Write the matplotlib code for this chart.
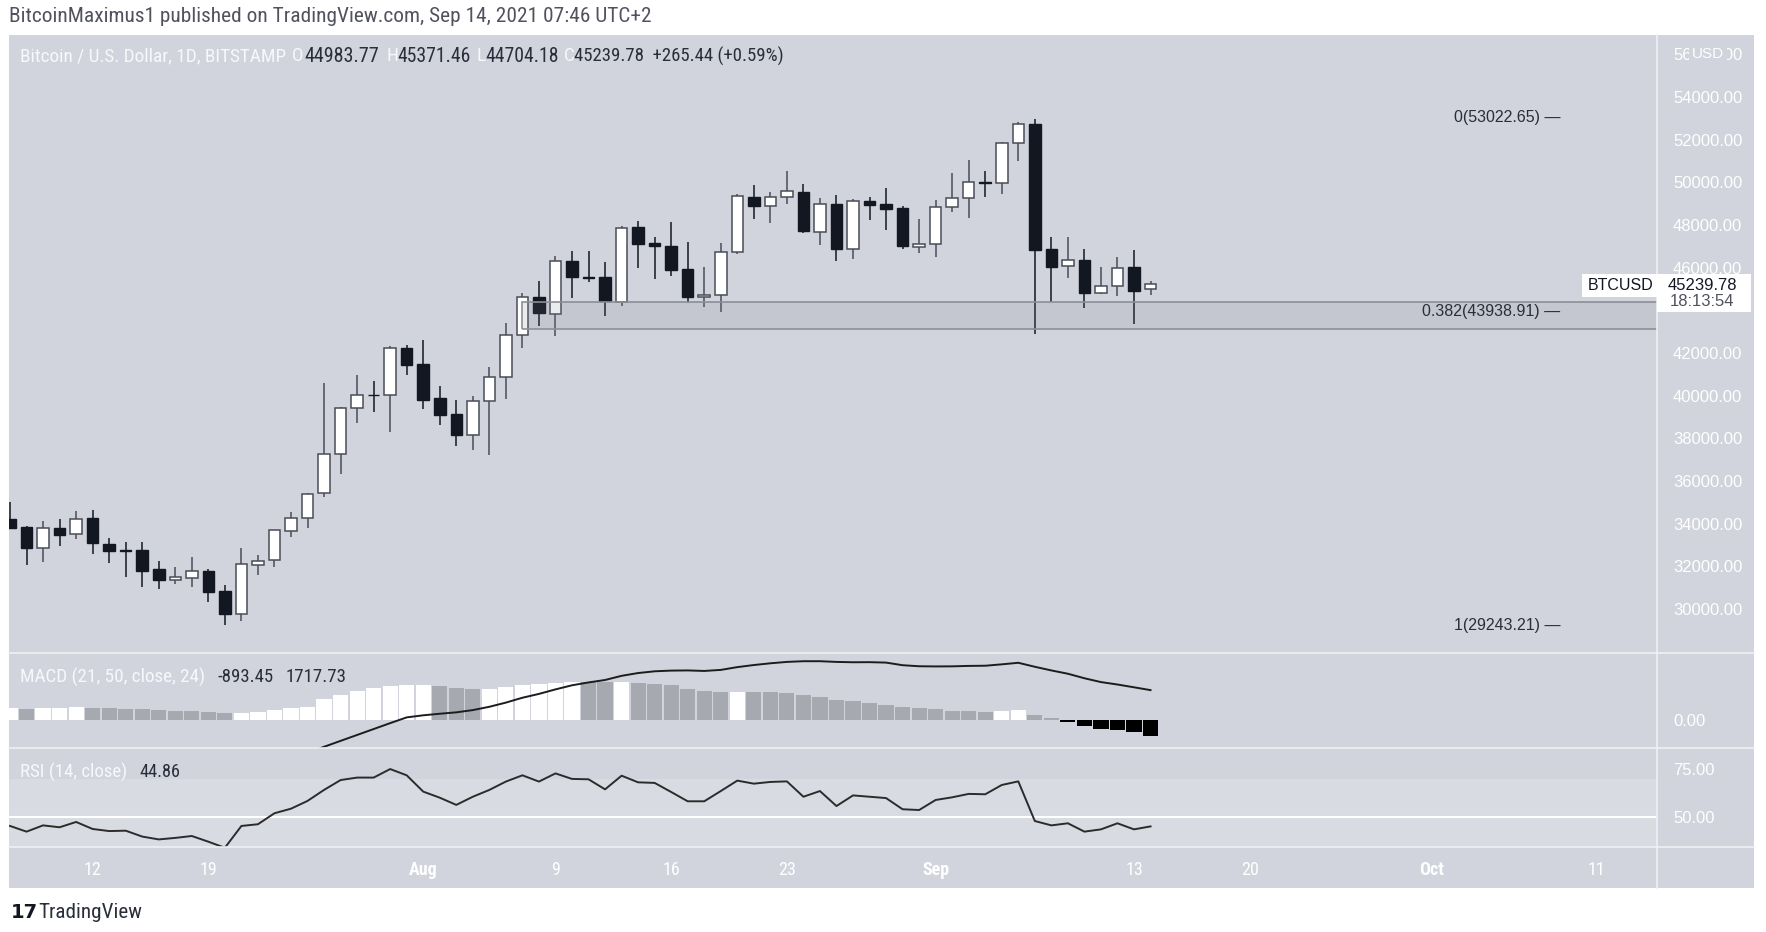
import matplotlib
matplotlib.use('Agg')
import matplotlib.pyplot as plt
import matplotlib.dates as mdates
import matplotlib.transforms as mtransforms
from matplotlib import font_manager
from matplotlib.patches import Rectangle
from matplotlib.lines import Line2D
import numpy as np
import pandas as pd

W, H = 1766, 932

# ---------------- data ----------------
dates = pd.date_range('2021-07-07', '2021-09-14', freq='D')

opens = [34220, 33860, 32875, 33780, 33516, 34266, 33047, 32781, 32766, 31875, 31359, 31469, 31781, 30844,
         29781, 32047, 32297, 33672, 34250, 35422, 37250, 39438, 40050, 40031, 42219,
         41484, 39875, 39141, 38172, 39734, 40875, 42844, 44641, 43813, 46297, 45578, 45547, 44391, 47891,
         47141, 47031, 45922, 44625, 44734, 46750, 49328, 48891, 49328, 49531, 47656, 49000, 46859, 49109,
         48969, 48797, 46969,
         47125, 48828, 49250, 50031, 49953, 51828, 52734, 46875, 46063, 46375, 44828, 45156, 46016, 44983.77]
highs = [35030, 33900, 34125, 34220, 34594, 34656, 33313, 33125, 33156, 32250, 31969, 32422, 31875, 31125,
         32844, 32547, 33700, 34531, 35453, 40578, 39484, 40953, 40688, 42344, 42375,
         42609, 40469, 39781, 40000, 41359, 43422, 44797, 45391, 46563, 46781, 46781, 46250, 47953, 48203,
         47422, 48125, 47188, 46016, 47141, 49453, 49875, 49531, 50547, 49906, 49281, 49391, 49219, 49328,
         49719, 48906, 48266,
         49172, 50422, 51047, 50547, 51906, 52844, 52953, 47422, 47422, 46891, 46016, 46516, 46813, 45371.46]
lows = [33760, 32063, 32219, 32969, 33281, 32594, 32172, 31516, 31031, 30922, 31172, 31031, 30344, 29266,
        29438, 31609, 31953, 33391, 33813, 35266, 36328, 38734, 39234, 38313, 40969,
        39359, 38625, 37625, 37469, 37219, 39844, 42219, 43266, 42797, 44594, 45344, 43734, 44219, 45969,
        45453, 45609, 44359, 44172, 43906, 46641, 48281, 48078, 48984, 47609, 47063, 46313, 46391, 48234,
        47766, 46859, 46672,
        46516, 48609, 48344, 49328, 49453, 51016, 42875, 44375, 45500, 44125, 44766, 44688, 43359, 44704.18]
closes = [33780, 32844, 33781, 33453, 34203, 33078, 32703, 32703, 31781, 31359, 31516, 31766, 30781, 29750,
          32125, 32266, 33688, 34250, 35391, 37250, 39438, 40031, 40020, 42219, 41453,
          39797, 39094, 38172, 39734, 40875, 42860, 44641, 43859, 46297, 45547, 45500, 44438, 47875, 47109,
          47016, 45891, 44641, 44734, 46750, 49375, 48891, 49328, 49594, 47719, 49000, 46859, 49109, 48938,
          48766, 47016, 47125,
          48844, 49266, 50031, 49969, 51828, 52734, 46828, 46047, 46375, 44828, 45156, 46000, 44906, 45239.78]

macd_hist = [670, 660, 680, 700, 740, 690, 670, 645, 610, 570, 530, 495, 455, 380,
             420, 475, 600, 665, 760, 1180, 1460, 1650, 1860, 1980, 2000,
             2010, 1940, 1830, 1800, 1810, 1880, 2010, 2090, 2150, 2200, 2170, 2160, 2200, 2130,
             2090, 1995, 1805, 1670, 1615, 1625, 1610, 1590, 1555, 1425, 1330, 1140, 1080, 1005,
             890, 760, 665,
             605, 535, 520, 455, 510, 570, 285, 95, -115, -325, -530, -575, -685, -893.45]

macd_line = [np.nan] * 18 + [
    -1900, -1540, -1200, -860, -520, -180, 150,
    270, 360, 440, 570, 760, 1000, 1280, 1500, 1760, 1995, 2160, 2300, 2540, 2700, 2800, 2840, 2850,
    2820, 2880, 3040, 3160, 3260, 3340, 3380, 3380, 3340, 3320, 3325, 3300, 3150, 3090,
    3080, 3085, 3110, 3120, 3200, 3290, 3060, 2850, 2660, 2400, 2180, 2040, 1880, 1717.73]

rsi = [45.1, 42.1, 45.4, 44.4, 47.2, 43.5, 42.4, 42.6, 39.5, 38.0, 38.8, 39.8, 36.8, 33.6,
       45.1, 46.0, 51.8, 54.2, 58.3, 64.1, 69.3, 70.6, 70.6, 75.1, 71.8,
       63.2, 60.0, 56.2, 60.5, 64.1, 68.5, 71.8, 68.5, 72.8, 69.9, 69.7, 64.4, 71.6, 68.1,
       67.8, 63.0, 58.1, 58.1, 63.5, 69.0, 67.4, 68.3, 68.6, 60.5, 63.5, 55.6, 61.2, 60.5,
       59.8, 53.9, 53.5,
       58.8, 60.2, 62.0, 61.8, 66.7, 68.6, 47.7, 45.4, 46.5, 42.1, 43.3, 46.5, 43.3, 44.86]

price_ticks = [30000, 32000, 34000, 36000, 38000, 40000, 42000, 46000, 48000, 50000, 52000, 54000, 56000]
fib_levels = [("0", 53022.65), ("0.382", 43938.91), ("1", 29243.21)]
zone_low, zone_high = 43130, 44390
zone_start = '2021-08-07'
tick_dates = ['2021-07-12', '2021-07-19', '2021-08-01', '2021-08-09', '2021-08-16', '2021-08-23',
              '2021-09-01', '2021-09-13', '2021-09-20', '2021-10-01', '2021-10-11']
tick_labels = ['12', '19', 'Aug', '9', '16', '23', 'Sep', '13', '20', 'Oct', '11']
month_labels = {'Aug', 'Sep', 'Oct'}

# ---------------- style ----------------
names = set(font_manager.get_font_names())
def pick(*cands):
    for n in cands:
        if n in names:
            return n
    return 'DejaVu Sans'
NARROW = pick('Liberation Sans Narrow', 'Roboto Condensed', 'Liberation Sans')
REG = pick('Liberation Sans', 'Roboto', 'DejaVu Sans')

BG = '#d1d4dc'
LIGHT = '#f7f8fb'
DARK = '#2a2e39'
DOWN = '#131722'
UPEDGE = '#4a4d57'
SEP = '#eef0f4'

fig = plt.figure(figsize=(W / 100, H / 100), dpi=100, facecolor='white')

def R(x0, y0, x1, y1):
    return [x0 / W, 1 - y1 / H, (x1 - x0) / W, (y1 - y0) / H]

def clean(a):
    for s in a.spines.values():
        s.set_visible(False)

bg = fig.add_axes(R(9, 35, 1754, 888))
bg.set_facecolor(BG)
bg.set_xticks([]); bg.set_yticks([])
clean(bg)
bg.set_zorder(-5)

ax = fig.add_axes(R(9, 35, 1657, 653))
axm = fig.add_axes(R(9, 653, 1657, 748))
axr = fig.add_axes(R(9, 748, 1657, 847))
for a in (ax, axm, axr):
    a.patch.set_alpha(0)
    clean(a)

x = mdates.date2num(dates)
x0 = x[0]
for a in (ax, axm, axr):
    a.set_xlim(x0 - 0.06, x0 + 99.64)

# ---------------- candles ----------------
o = np.array(opens, float); c = np.array(closes, float)
h = np.array(highs, float); l = np.array(lows, float)
up = c >= o
ax.vlines(x[up], l[up], h[up], color=UPEDGE, lw=1.1, zorder=2)
ax.vlines(x[~up], l[~up], h[~up], color=DOWN, lw=1.1, zorder=2)
ax.bar(x[up], (c - o)[up], bottom=o[up], width=0.7, color='white', edgecolor=UPEDGE,
       linewidth=1.1, zorder=3)
ax.bar(x[~up], (o - c)[~up], bottom=c[~up], width=0.7, color=DOWN, edgecolor=DOWN,
       linewidth=1.0, zorder=3)
ax.set_ylim(27937.5, 56906)

# zone rectangle
zx = mdates.date2num(pd.Timestamp(zone_start))
ax.add_patch(Rectangle((zx, zone_low), 200, zone_high - zone_low, facecolor='#787b86',
                       alpha=0.14, edgecolor='none', zorder=4))
ax.add_patch(Rectangle((zx, zone_low), 200, zone_high - zone_low, facecolor='none',
                       edgecolor='#8c8f98', lw=1.2, zorder=4))

# fib labels
btrans = mtransforms.blended_transform_factory(ax.transAxes, ax.transData)
fx = (1560 - 9) / 1648
for name, val in fib_levels:
    ax.text(fx, val, f"{name}({val:.2f}) \u2014", transform=btrans, ha='right', va='center',
            color=DARK, fontsize=11.5, fontfamily=REG, zorder=6)

# price axis
ax.yaxis.tick_right()
ax.set_yticks(price_ticks)
ax.set_yticklabels([f"{v:.2f}" for v in price_ticks])
ax.tick_params(axis='y', length=0, pad=11.5, labelsize=12, labelcolor='white')
ax.set_xticks([])
for lbl in ax.get_yticklabels():
    lbl.set_fontfamily(REG)

# ---------------- MACD ----------------
hist = np.array(macd_hist, float)
cols = []
for i, v in enumerate(hist):
    if v < 0:
        cols.append('#000000')
    elif i == 0 or v > hist[i - 1]:
        cols.append('#ffffff')
    else:
        cols.append('#a7a9b0')
axm.bar(x, hist, width=0.92, color=cols, linewidth=0, zorder=2)
axm.plot(x, macd_line, color='#1c1c1c', lw=1.4, zorder=3)
axm.set_ylim(-1610, 3852)
axm.yaxis.tick_right()
axm.set_yticks([0])
axm.set_yticklabels(['0.00'])
axm.tick_params(axis='y', length=0, pad=11.5, labelsize=12, labelcolor='white')
axm.set_xticks([])
for lbl in axm.get_yticklabels():
    lbl.set_fontfamily(REG)

# ---------------- RSI ----------------
axr.axhspan(30, 70, color='#d8dbe2', zorder=0, lw=0)
axr.axhline(50, color='white', lw=1.5, zorder=1)
axr.plot(x, rsi, color='#2b2b2b', lw=1.4, zorder=3)
axr.set_ylim(34.0, 86.2)
axr.yaxis.tick_right()
axr.set_yticks([50, 75])
axr.set_yticklabels(['50.00', '75.00'])
axr.tick_params(axis='y', length=0, pad=11.5, labelsize=12, labelcolor='white')
for lbl in axr.get_yticklabels():
    lbl.set_fontfamily(REG)
axr.set_xticks(mdates.date2num(pd.to_datetime(tick_dates)))
axr.set_xticklabels(tick_labels)
axr.tick_params(axis='x', length=0, pad=10, labelsize=13, labelcolor='white')
for lbl in axr.get_xticklabels():
    lbl.set_fontfamily(NARROW)
    if lbl.get_text() in month_labels:
        lbl.set_fontweight('bold')

# ---------------- separators ----------------
for yy in (653, 748, 847):
    fig.add_artist(Line2D([9 / W, 1754 / W], [1 - yy / H, 1 - yy / H], transform=fig.transFigure,
                          color=SEP, lw=1.2, zorder=2))
fig.add_artist(Line2D([1657 / W, 1657 / W], [1 - 35 / H, 1 - 888 / H], transform=fig.transFigure,
                      color=SEP, lw=1.2, zorder=2))

# ---------------- texts ----------------
renderer = fig.canvas.get_renderer()

def ftext(px, py, s, color, family, size, width=None, ha='left', va='center', weight='normal', **kw):
    t = fig.text(px / W, 1 - py / H, s, color=color, fontfamily=family, fontsize=size,
                 ha=ha, va=va, fontweight=weight, **kw)
    if width:
        w = t.get_window_extent(renderer).width
        t.set_fontsize(size * width / w)
    return t

ftext(9, 17, 'BitcoinMaximus1 published on TradingView.com, Sep 14, 2021 07:46 UTC+2',
      '#50535e', NARROW, 14, width=646)

t = ftext(20, 56, 'Bitcoin / U.S. Dollar, 1D, BITSTAMP', LIGHT, NARROW, 13, width=265)
s = t.get_fontsize()
for px, txt, col, wd in [(292, 'O', LIGHT, None), (304, '44983.77', DARK, 75),
                         (387, 'H', LIGHT, None), (397, '45371.46', DARK, 73),
                         (476, 'L', LIGHT, None), (485, '44704.18', DARK, 73),
                         (564, 'C', LIGHT, None), (574, '45239.78  +265.44 (+0.59%)', DARK, 210)]:
    ftext(px, 56, txt, col, NARROW, s, width=wd)

t = ftext(20, 677, 'MACD (21, 50, close, 24)', LIGHT, NARROW, 13, width=185)
s2 = t.get_fontsize()
ftext(218, 677, '-893.45', DARK, NARROW, s2, width=56)
ftext(286, 677, '1717.73', DARK, NARROW, s2, width=61)

t = ftext(20, 772, 'RSI (14, close)', LIGHT, NARROW, 13, width=107)
ftext(139.5, 772, '44.86', DARK, NARROW, t.get_fontsize(), width=41)

# USD label over top price tick
ftext(1708, 54, 'USD', 'white', REG, 11, ha='center', zorder=6,
      bbox=dict(boxstyle='square,pad=0.2', fc=BG, ec='none'))

# last price labels
fig.add_artist(Rectangle((1582 / W, 1 - 297 / H), 75 / W, 23 / H, transform=fig.transFigure,
                         facecolor='white', edgecolor='none', zorder=5))
fig.add_artist(Rectangle((1657 / W, 1 - 312 / H), 94 / W, 38 / H, transform=fig.transFigure,
                         facecolor='white', edgecolor='none', zorder=5))
ftext(1588, 285, 'BTCUSD', DOWN, REG, 11.5, zorder=6)
ftext(1668, 285, f"{closes[-1]:.2f}", DOWN, REG, 12, zorder=6)
ftext(1670, 302, '18:13:54', '#50535e', REG, 12, zorder=6)

# footer logo
ftext(11, 913, '17', '#131722', 'DejaVu Sans', 14, weight='heavy')
ftext(38, 913, 'TradingView', '#2a2e39', NARROW, 14, width=104)

fig.savefig('out.png', dpi=100, facecolor='white')
